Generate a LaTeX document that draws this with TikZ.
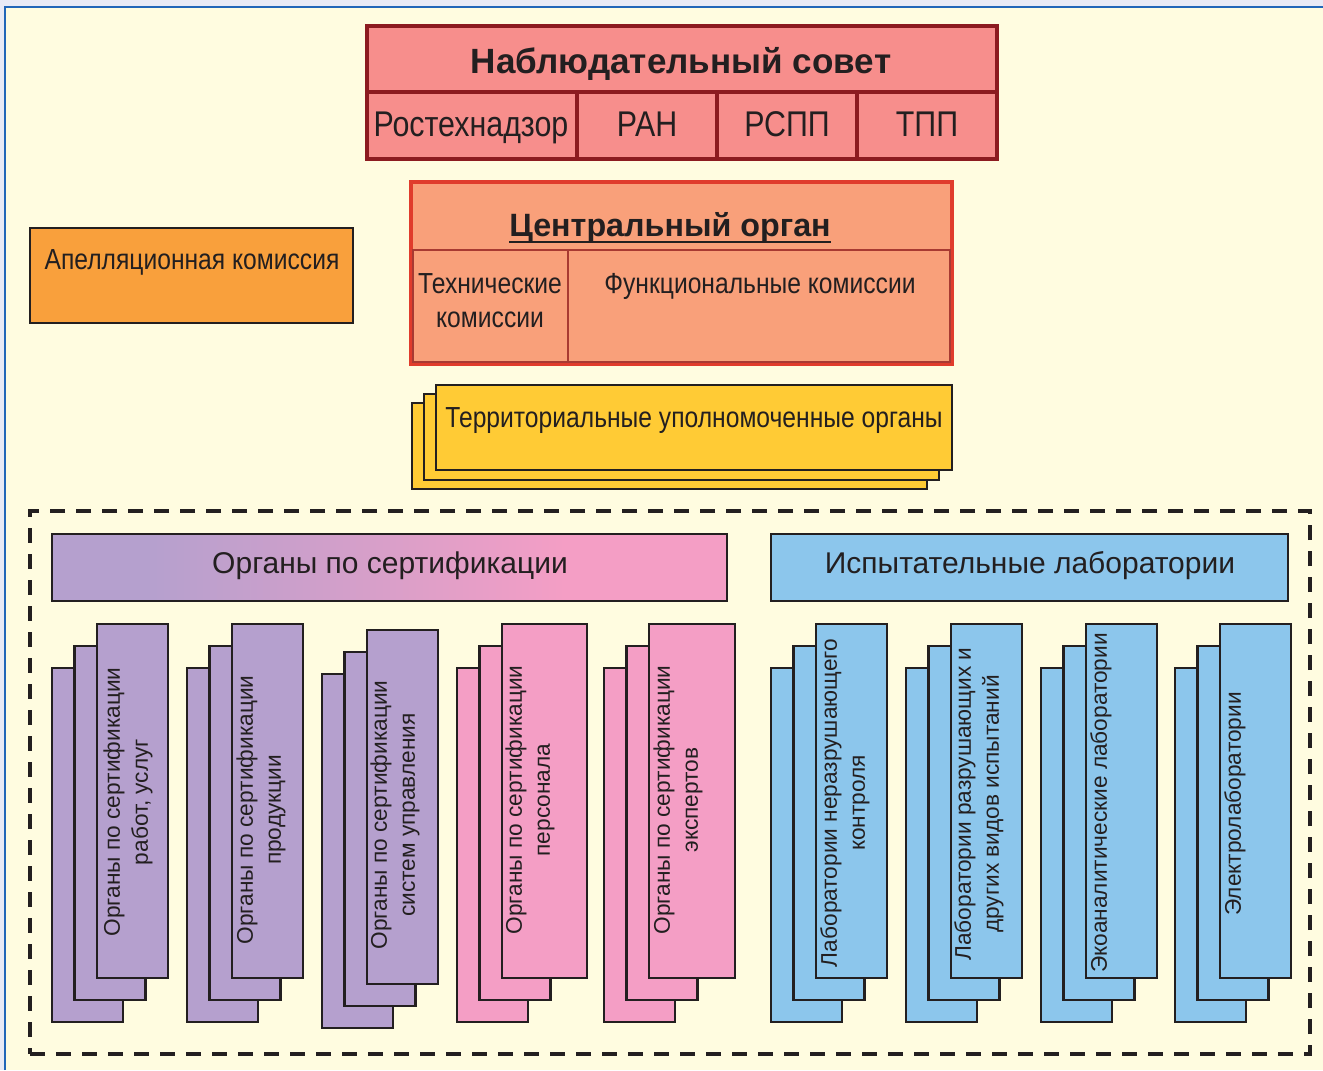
\documentclass[tikz,border=0pt]{standalone}
\usepackage{fontspec}
\setmainfont{Liberation Sans}
\newfontfamily\nar[FakeStretch=0.85]{Liberation Sans}
\usetikzlibrary{calc}
\definecolor{bgout}{HTML}{E8EAF6}
\definecolor{cream}{HTML}{FFFCE0}
\definecolor{frameblue}{HTML}{2166B8}
\definecolor{nsfill}{HTML}{F78E8C}
\definecolor{nsdraw}{HTML}{8C1B20}
\definecolor{cofill}{HTML}{F9A07A}
\definecolor{codraw}{HTML}{E03C2C}
\definecolor{coinner}{HTML}{A83A32}
\definecolor{apfill}{HTML}{F9A03C}
\definecolor{yel}{HTML}{FFCB35}
\definecolor{cpur}{HTML}{B5A0CE}
\definecolor{cpink}{HTML}{F49EC5}
\definecolor{cblue}{HTML}{8CC6EC}
\definecolor{cdark}{HTML}{231F20}
\pgfdeclarehorizontalshading{certsh}{100bp}{color(0bp)=(cpur); color(32bp)=(cpur); color(63bp)=(cpink); color(100bp)=(cpink)}
\newcommand\bx[6]{\node[#2, anchor=north west, inner sep=0pt, outer sep=0pt, minimum width={(#5-(#3))*0.75pt}, minimum height={(#6-(#4))*0.75pt}] (#1) at (#3,#4) {};}
\newcommand\cards[5]{%
 \bx{#1a}{card,fill=#2}{#3}{#4}{#3+71}{#4+354}
 \bx{#1b}{card,fill=#2}{#3+22.5}{#4-22}{#3+93.5}{#4+332}
 \bx{#1c}{card,fill=#2}{#3+45}{#4-44}{#3+45+#5}{#4+310}}
\tikzset{
 txt/.style={inner sep=0pt, text=cdark},
 nsbox/.style={fill=nsfill, draw=nsdraw, line width=2.6pt},
 cobox/.style={fill=cofill, draw=codraw, line width=2.3pt},
 coin/.style={draw=coinner, line width=1.5pt},
 apbox/.style={fill=apfill, draw=cdark, line width=1.6pt},
 ybox/.style={fill=yel, draw=cdark, line width=1.6pt},
 card/.style={draw=cdark, line width=1.6pt},
 dashbox/.style={draw=cdark, line width=3pt, dash pattern=on 11pt off 8.5pt},
 certbar/.style={shade, shading=certsh, draw=cdark, line width=1.6pt},
 labbar/.style={fill=cblue, draw=cdark, line width=1.6pt},
 nartxt/.style={txt, anchor=base, font=\nar\fontsize{21.75}{25}\selectfont},
 bartxt/.style={txt, anchor=base, font=\fontsize{22.5}{26}\selectfont},
 celltxt/.style={txt, anchor=base, font=\nar\fontsize{26.8}{30}\selectfont},
 cardtxt/.style={txt, rotate=90, align=center, font=\fontsize{17}{21}\selectfont}
}
\begin{document}
\begin{tikzpicture}[x=0.75pt,y=-0.75pt]
\useasboundingbox (0,0) rectangle (1323,1070);
\fill[bgout] (0,0) rectangle (1323,1070);
\fill[cream] (5,7) rectangle (1323,1070);
\draw[frameblue, line width=1.5pt] (5,1070) -- (5,7) -- (1323,7);
% Supervisory board
\bx{nsh}{nsbox}{367}{26}{997}{92}
\bx{ns1}{nsbox}{367}{92}{577}{159}
\bx{ns2}{nsbox}{577}{92}{717}{159}
\bx{ns3}{nsbox}{717}{92}{857}{159}
\bx{ns4}{nsbox}{857}{92}{997}{159}
\node[txt, anchor=base, font=\bfseries\fontsize{26.3}{30}\selectfont] (nst) at (681,74) {Наблюдательный совет};
\node[celltxt] (t1) at (471,137) {Ростехнадзор};
\node[celltxt] (t2) at (647,137) {РАН};
\node[celltxt] (t3) at (787,137) {РСПП};
\node[celltxt] (t4) at (927,137) {ТПП};
% Central body
\bx{co}{cobox}{411}{182}{952}{364}
\bx{co1}{coin}{413}{250}{568}{362}
\bx{co2}{coin}{568}{250}{950}{362}
\node[txt, anchor=base, font=\bfseries\fontsize{24.2}{28}\selectfont] (cot) at (670,236) {Центральный орган};
\draw[cdark, line width=2.2pt] ([yshift=-4.5pt]cot.base west) -- ([yshift=-4.5pt]cot.base east);
\node[nartxt] (tk1) at (490,293) {Технические};
\node[nartxt] (tk2) at (490,327) {комиссии};
\node[nartxt] (fk) at (760,293) {Функциональные комиссии};
% Appeal commission
\bx{ap}{apbox}{30}{228}{353}{323}
\node[nartxt] (apt) at (192,269) {Апелляционная комиссия};
% Territorial
\bx{ty3}{ybox}{412}{403}{927}{489}
\bx{ty2}{ybox}{424}{394}{939}{480}
\bx{ty1}{ybox}{436}{385}{952}{470}
\node[nartxt] (tyt) at (694,427) {Территориальные уполномоченные органы};
% Dashed group
\bx{grp}{dashbox}{30}{511}{1310}{1054}
\bx{cert}{certbar}{52}{534}{727}{601}
\bx{lab}{labbar}{771}{534}{1288}{601}
\node[bartxt] (certt) at (390,573) {Органы по сертификации};
\node[bartxt] (labt) at (1030,573) {Испытательные лаборатории};
% Card stacks
\cards{g1}{cpur}{52}{668}{71}
\cards{g2}{cpur}{187}{668}{71}
\cards{g3}{cpur}{322}{674}{71}
\cards{g4}{cpink}{457}{668}{85}
\cards{g5}{cpink}{604}{668}{86}
\cards{g6}{cblue}{771}{668}{71}
\cards{g7}{cblue}{906}{668}{71}
\cards{g8}{cblue}{1041}{668}{71}
\cards{g9}{cblue}{1175}{668}{71}
\node[cardtxt] (g1t) at (128,802) {Органы по сертификации\\работ, услуг};
\node[cardtxt] (g2t) at (261,810) {Органы по сертификации\\продукции};
\node[cardtxt] (g3t) at (395,815) {Органы по сертификации\\систем управления};
\node[cardtxt] (g4t) at (530,800) {Органы по сертификации\\персонала};
\node[cardtxt] (g5t) at (678,800) {Органы по сертификации\\экспертов};
\node[cardtxt] (g6t) at (845,803) {Лаборатории неразрушающего\\контроля};
\node[cardtxt] (g7t) at (979,804) {Лаборатории разрушающих и\\других видов испытаний};
\node[cardtxt] (g8t) at (1101,803) {Экоаналитические лаборатории};
\node[cardtxt] (g9t) at (1235,804) {Электролаборатории};
\end{tikzpicture}
\end{document}
